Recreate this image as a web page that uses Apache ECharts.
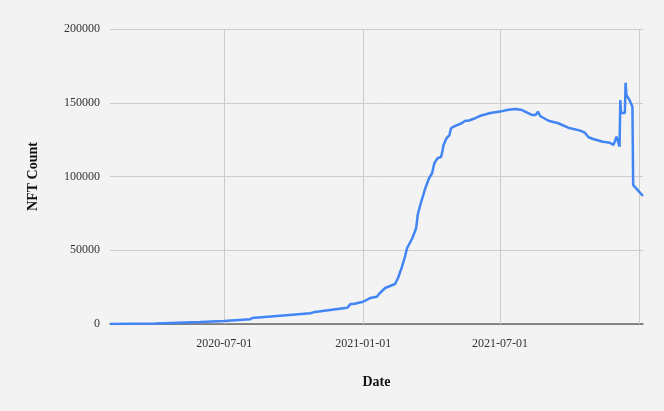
<!DOCTYPE html>
<html>
<head>
<meta charset="utf-8">
<script src="https://cdn.jsdelivr.net/npm/echarts@6/dist/echarts.min.js"></script>
<style>
html,body{margin:0;padding:0;background:#f3f3f3;}
#chart{width:664px;height:411px;}
</style>
</head>
<body>
<div id="chart"></div>
<script>
var dates = ["2020-02-01","2020-04-01","2020-05-30","2020-07-01","2020-08-04","2020-08-07","2020-09-13","2020-10-23","2020-10-27","2020-11-18","2020-12-11","2020-12-15","2020-12-19","2021-01-01","2021-01-10","2021-01-19","2021-01-23","2021-01-30","2021-02-12","2021-02-16","2021-02-21","2021-02-25","2021-02-28","2021-03-07","2021-03-12","2021-03-14","2021-03-17","2021-03-24","2021-03-29","2021-04-02","2021-04-05","2021-04-09","2021-04-14","2021-04-16","2021-04-17","2021-04-21","2021-04-25","2021-04-27","2021-05-02","2021-05-11","2021-05-16","2021-05-20","2021-05-29","2021-06-04","2021-06-18","2021-07-01","2021-07-10","2021-07-21","2021-07-30","2021-08-03","2021-08-12","2021-08-17","2021-08-20","2021-08-23","2021-09-03","2021-09-16","2021-09-29","2021-10-15","2021-10-21","2021-10-26","2021-11-01","2021-11-14","2021-11-23","2021-11-28","2021-11-30","2021-12-02","2021-12-06","2021-12-07","2021-12-08","2021-12-09","2021-12-13","2021-12-14","2021-12-15","2021-12-19","2021-12-21","2021-12-23","2021-12-24","2021-12-28","2022-01-06"];
var nftCount = [0,400,1400,2000,3200,4000,5600,7300,7900,9500,11000,13500,13600,15100,17600,18500,21000,24400,27100,31200,38600,45400,51500,58300,65100,73900,80000,92000,98800,102200,109000,112300,113400,118000,121000,125900,128100,132700,134200,136100,137800,137800,139500,141000,143000,144000,145100,145800,145100,144000,141700,141700,144000,141000,137800,136100,133100,131100,129700,126600,125400,123600,122900,121400,121200,127000,120200,151900,143000,143000,143000,163500,155300,151900,149600,147300,94200,92000,86800];
var xTickLabels = ["2020-07-01","2021-01-01","2021-07-01"];
var xGridDates = ["2020-07-01","2021-01-01","2021-07-01","2022-01-01"];
var xMin = "2020-02-01", xMax = "2022-01-06";
var yMin = 0, yMax = 200000, yStep = 50000;

function ts(s){var p=s.split('-');return Date.UTC(+p[0],+p[1]-1,+p[2]);}
function pad(n){return (n<10?'0':'')+n;}
function fmt(v){var d=new Date(v);return d.getUTCFullYear()+'-'+pad(d.getUTCMonth()+1)+'-'+pad(d.getUTCDate());}

var font = "'Liberation Serif', 'DejaVu Serif', serif";
var chart = echarts.init(document.getElementById('chart'), null, {renderer:'canvas'});
chart.setOption({
  backgroundColor:'#f3f3f3',
  animation:false,
  grid:{left:110,right:21,top:29,bottom:87,containLabel:false},
  xAxis:{
    type:'value', min:ts(xMin), max:ts(xMax), scale:true,
    name:'Date', nameLocation:'middle', nameGap:51,
    nameTextStyle:{fontFamily:font,fontSize:14,fontWeight:'bold',color:'#111'},
    axisLine:{show:true,onZero:false,lineStyle:{color:'#666',width:1.5}},
    axisTick:{show:false},
    splitLine:{show:false},
    axisLabel:{customValues:xTickLabels.map(ts),formatter:function(v){return fmt(v);},
      fontFamily:font,fontSize:12,color:'#333',margin:14,showMinLabel:true,showMaxLabel:true}
  },
  yAxis:{
    type:'value', min:yMin, max:yMax, interval:yStep,
    name:'NFT Count', nameLocation:'middle', nameGap:70,
    nameTextStyle:{fontFamily:font,fontSize:14,fontWeight:'bold',color:'#111'},
    axisLine:{show:false}, axisTick:{show:false},
    splitLine:{lineStyle:{color:'#cccccc',width:1}},
    axisLabel:{fontFamily:font,fontSize:12,color:'#333',margin:10,formatter:function(v){return String(v);}}
  },
  series:[{
    type:'line',
    data:dates.map(function(d,i){return [ts(d),nftCount[i]];}),
    showSymbol:false, symbol:'none',
    lineStyle:{color:'#4285f4',width:2.5},
    z:5,
    markLine:{
      silent:true, symbol:['none','none'], label:{show:false},
      lineStyle:{color:'#cccccc',width:1,type:'solid'},
      z:1,
      data:xGridDates.map(function(d){return {xAxis:ts(d)};})
    }
  }]
});
</script>
</body>
</html>
